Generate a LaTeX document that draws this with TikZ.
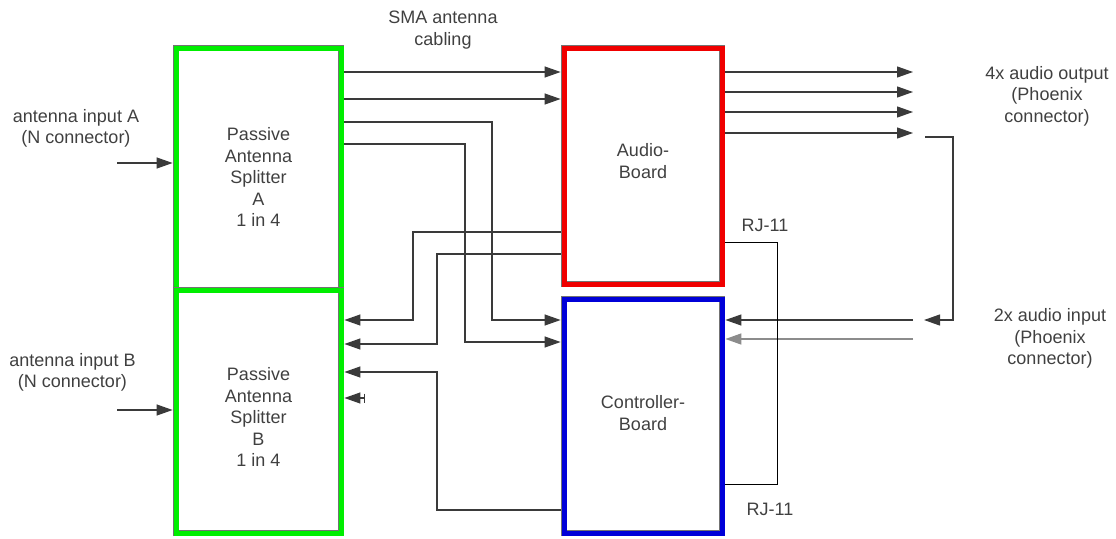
\documentclass[tikz,border=0pt]{standalone}
\usepackage{fontspec}
\setmainfont{Liberation Sans}
\usetikzlibrary{arrows.meta,calc}
\definecolor{BoardGreen}{HTML}{00EE00}
\definecolor{BoardRed}{HTML}{F00000}
\definecolor{BoardBlue}{HTML}{0000D8}
\definecolor{WireGray}{HTML}{3A3A3A}
\definecolor{TextGray}{HTML}{404040}

\begin{document}
\begin{tikzpicture}[x=1pt,y=-1pt,line join=miter,font=\fontsize{18}{21.5}\selectfont,
  board/.style={draw=black!55,line width=.9pt,double distance=5pt,inner sep=0pt,outer sep=3.4pt},
  wire/.style={draw=WireGray,line width=1.2pt},
  feed/.style={wire,-{Triangle[length=16pt,width=11pt]}},
  txt/.style={text=TextGray,align=center,inner sep=0pt}]
  \useasboundingbox (0,0) rectangle (1116,538);
  % boards
  \node[board,double=BoardGreen,minimum width=165pt,minimum height=242pt] (spA) at (258.5,169) {};
  \node[board,double=BoardGreen,minimum width=165pt,minimum height=243pt] (spB) at (258.5,411.5) {};
  \node[board,double=BoardRed,minimum width=158pt,minimum height=236pt] (audio) at (643,166) {};
  \node[board,double=BoardBlue,minimum width=158pt,minimum height=234pt] (ctrl) at (643,416) {};
  \node[txt] (spAtxt) at (258.5,177) {Passive\\Antenna\\Splitter\\A\\1 in 4};
  \node[txt] (spBtxt) at (258.5,417) {Passive\\Antenna\\Splitter\\B\\1 in 4};
  \node[txt] (audioTxt) at (643,161) {Audio-\\Board};
  \node[txt] (ctrlTxt) at (643,413) {Controller-\\Board};
  % labels
  \node[txt] (sma) at (443,30) {SMA antenna\\cabling};
  \node[txt] (lblA) at (76,128.5) {antenna input A\\(N connector)};
  \node[txt] (lblB) at (72.5,372.5) {antenna input B\\(N connector)};
  \node[txt] (lblOut) at (1047,96) {4x audio output\\(Phoenix\\connector)};
  \node[txt] (lblIn) at (1050,338.5) {2x audio input\\(Phoenix\\connector)};
  \node[txt] (rjTop) at (765,225) {RJ-11};
  \node[txt] (rjBot) at (770,509) {RJ-11};
  % free ends
  \coordinate (inA) at (117,163);\coordinate (inB) at (117,410);\coordinate (stub) at (365,398);
  \coordinate (outEnd) at (913,0);\coordinate (loopA) at (925,137);\coordinate (loopB) at (953,320);\coordinate (loopEnd) at (924,320);
  % antenna inputs
  \draw[feed] (inA) -- (spA.west |- inA);
  \draw[feed] (inB) -- (spB.west |- inB);
  % SMA cabling
  \draw[feed] (spA.east |- 0,72) -- (audio.west |- 0,72);
  \draw[feed] (spA.east |- 0,99) -- (audio.west |- 0,99);
  \draw[feed] (spA.east |- 0,122) -| (492,320) -- (ctrl.west |- 0,320);
  \draw[feed] (spA.east |- 0,144) -| (465,342) -- (ctrl.west |- 0,342);
  \draw[feed] (audio.west |- 0,232) -| (413,320) -- (spB.east |- 0,320);
  \draw[feed] (audio.west |- 0,254) -| (437,344) -- (spB.east |- 0,344);
  \draw[feed] (ctrl.west |- 0,510) -| (437,372) -- (spB.east |- 0,372);
  \draw[wire,{Triangle[length=16pt,width=11pt]}-{Bar[width=9pt]}] (spB.east |- stub) -- (stub);
  % audio out / in
  \foreach \y in {72,92,112,133} \draw[feed] (audio.east |- 0,\y) -- (outEnd |- 0,\y);
  \draw[feed] (loopA) -| (loopB) -- (loopEnd);
  \draw[feed] (outEnd |- 0,320) -- (ctrl.east |- 0,320);
  \draw[feed,draw=black!45,line width=1.6pt] (outEnd |- 0,339) -- (ctrl.east |- 0,339);
  % RJ-11 link
  \draw[wire,draw=black,line width=.9pt] (audio.east |- 0,242) -| (777,484) -- (ctrl.east |- 0,484);
\end{tikzpicture}
\end{document}
